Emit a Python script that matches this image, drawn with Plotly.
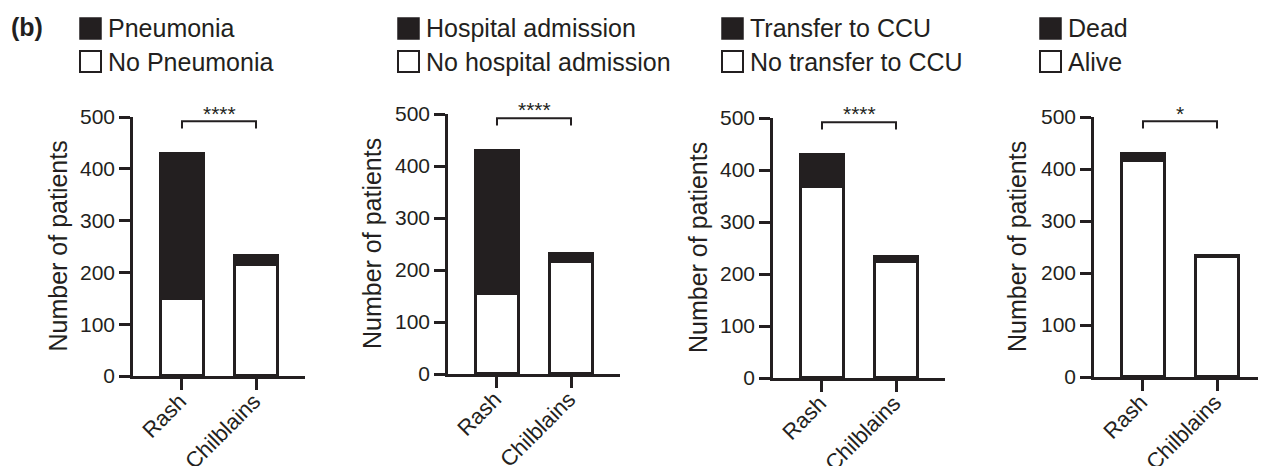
import plotly.graph_objects as go

W, H = 1266, 466
OFF = 8  # page body margin offset: figure is drawn 8px right/down in the page
INK = "#231f20"
FONT = "Liberation Sans, Arial, Helvetica, sans-serif"

categories = ["Rash", "Chilblains"]

pneumonia_yes = [279, 16]
pneumonia_no = [150, 216]
hosp_yes = [274, 15]
hosp_no = [155, 216]
ccu_yes = [60, 9]
ccu_no = [369, 225]
dead = [12, 1]
alive = [417, 232]

legend_yes = ["Pneumonia", "Hospital admission", "Transfer to CCU", "Dead"]
legend_no = ["No Pneumonia", "No hospital admission", "No transfer to CCU", "Alive"]
significance = ["****", "****", "****", "*"]
y_ticks = [0, 100, 200, 300, 400, 500]
y_title = "Number of patients"

panels = [
    (pneumonia_no, pneumonia_yes),
    (hosp_no, hosp_yes),
    (ccu_no, ccu_yes),
    (alive, dead),
]

# layout geometry (page pixels)
axis_x0 = [133, 448, 773, 1094]
axis_w = 172
axis_y0 = [376, 374, 378, 377]
axis_y500 = [117, 114, 118, 117]
legend_sq_x = [80, 398, 722, 1040]
ytitle_x = [58, 372, 698, 1017]


def px(p):
    return (p - OFF) / W


def py(p):
    return 1 - (p - OFF) / H


fig = go.Figure()
shapes = []
annotations = []

for i, (no_vals, yes_vals) in enumerate(panels):
    n = i + 1
    xa = "x" if n == 1 else f"x{n}"
    ya = "y" if n == 1 else f"y{n}"
    fig.add_trace(go.Bar(
        x=categories, y=no_vals, xaxis=xa, yaxis=ya, width=0.58,
        marker=dict(color="white", line=dict(color=INK, width=3.5)),
        showlegend=False, hoverinfo="skip",
    ))
    fig.add_trace(go.Bar(
        x=categories, y=yes_vals, xaxis=xa, yaxis=ya, width=0.58,
        marker=dict(color=INK, line=dict(color=INK, width=3.5)),
        showlegend=False, hoverinfo="skip",
    ))
    x0 = axis_x0[i]
    x1 = x0 + axis_w
    xdom = [px(x0), min(px(x1), 1.0)]
    ydom = [py(axis_y0[i]), py(axis_y500[i])]
    xkey = "xaxis" if n == 1 else f"xaxis{n}"
    ykey = "yaxis" if n == 1 else f"yaxis{n}"
    fig.update_layout({
        xkey: dict(
            domain=xdom, anchor=ya, range=[-0.662, 1.662], automargin=False,
            showline=True, linecolor=INK, linewidth=2.5,
            ticks="outside", ticklen=11, tickwidth=2.5, tickcolor=INK,
            tickangle=-45, tickfont=dict(size=22, color=INK, family=FONT),
            ticklabelstandoff=-10, ticklabelshift=-2,
            showgrid=False, zeroline=False, fixedrange=True,
        ),
        ykey: dict(
            domain=ydom, anchor=xa, range=[0, 500], automargin=False,
            tickvals=y_ticks, ticktext=[str(v) for v in y_ticks],
            showline=True, linecolor=INK, linewidth=2.5,
            ticks="outside", ticklen=11, tickwidth=2.5, tickcolor=INK,
            tickfont=dict(size=21, color=INK, family=FONT),
            showgrid=False, zeroline=False, fixedrange=True,
        ),
    })
    # significance bracket
    shapes.append(dict(type="path", xref=xa, yref=ya,
                       path="M 0,478 L 0,492 L 1,492 L 1,478",
                       line=dict(color=INK, width=2)))
    annotations.append(dict(text=significance[i], xref=xa, yref="paper",
                            x=0.5, y=py(axis_y500[i] - 4), yanchor="middle", showarrow=False,
                            font=dict(size=21, color=INK, family=FONT)))
    # legend
    sx = legend_sq_x[i]
    shapes.append(dict(type="rect", xref="paper", yref="paper",
                       x0=px(sx), x1=px(sx + 21), y0=py(39), y1=py(18),
                       fillcolor=INK, line=dict(color=INK, width=1.5)))
    shapes.append(dict(type="rect", xref="paper", yref="paper",
                       x0=px(sx), x1=px(sx + 21), y0=py(72), y1=py(51),
                       fillcolor="white", line=dict(color=INK, width=2)))
    annotations.append(dict(text=legend_yes[i], xref="paper", yref="paper",
                            x=px(sx + 26), y=py(28), xanchor="left", yanchor="middle",
                            showarrow=False, font=dict(size=25, color=INK, family=FONT)))
    annotations.append(dict(text=legend_no[i], xref="paper", yref="paper",
                            x=px(sx + 26), y=py(62), xanchor="left", yanchor="middle",
                            showarrow=False, font=dict(size=25, color=INK, family=FONT)))
    annotations.append(dict(text=y_title, xref="paper", yref="paper",
                            x=px(ytitle_x[i]), y=py((axis_y0[i] + axis_y500[i]) / 2),
                            xanchor="center", yanchor="middle", textangle=-90,
                            showarrow=False, font=dict(size=25, color=INK, family=FONT)))

annotations.append(dict(text="<b>(b)</b>", xref="paper", yref="paper",
                        x=px(9), y=py(27), xanchor="left", yanchor="middle",
                        showarrow=False, font=dict(size=25, color=INK, family=FONT)))

fig.update_layout(
    width=W, height=H, margin=dict(l=0, r=0, t=0, b=0, autoexpand=False),
    paper_bgcolor="white", plot_bgcolor="white",
    barmode="stack", bargap=0.4,
    shapes=shapes, annotations=annotations,
    font=dict(family=FONT, color=INK),
)

fig.write_html("out.html")
